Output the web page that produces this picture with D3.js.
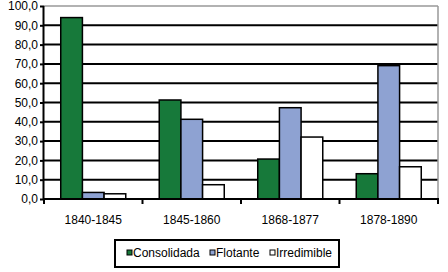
<!DOCTYPE html>
<html>
<head>
<meta charset="utf-8">
<script src="https://cdn.jsdelivr.net/npm/d3@7"></script>
<style>
  body { margin: 0; background: #fff; }
  svg text { font-family: "Liberation Sans", Arial, sans-serif; fill: #000; }
</style>
</head>
<body>
<svg id="chart" width="448" height="272"></svg>
<script>
// data
let periods = ["1840-1845", "1845-1860", "1868-1877", "1878-1890"];
let series = ["Consolidada", "Flotante", "Irredimible"];
let consolidada = [94.0, 51.3, 20.7, 13.1];
let flotante = [3.4, 41.3, 47.3, 69.1];
let irredimible = [2.7, 7.4, 32.1, 16.7];
let yTicks = [0, 10, 20, 30, 40, 50, 60, 70, 80, 90, 100];
let colors = ["#17793a", "#8ea2d2", "#ffffff"];

let svg = d3.select("#chart");
let margin = {top: 6, right: 10, bottom: 73, left: 44},
    width = 448 - margin.left - margin.right,
    height = 272 - margin.top - margin.bottom;

let x0 = d3.scaleBand().domain(periods).range([0, width]).paddingInner(0.34).paddingOuter(0.17);
let x1 = d3.scaleBand().domain(series).range([0, x0.bandwidth()]);
let y = d3.scaleLinear().domain([0, 100]).range([height, 0]);

let g = svg.append("g").attr("transform", `translate(${margin.left},${margin.top})`);

// gridlines
g.selectAll("line.grid")
    .data(yTicks.filter(d => d > 0 && d < 100)).enter()
    .append("line")
    .attr("x1", 0).attr("x2", width)
    .attr("y1", d => y(d)).attr("y2", d => y(d))
    .attr("stroke", "#000").attr("stroke-width", 2);

// plot border (top/right gray)
g.append("line").attr("x1", 0).attr("x2", width).attr("y1", 0).attr("y2", 0)
    .attr("stroke", "#999").attr("stroke-width", 1.5);
g.append("line").attr("x1", width).attr("x2", width).attr("y1", 0).attr("y2", height)
    .attr("stroke", "#999").attr("stroke-width", 1.5);

// bars
let values = [consolidada, flotante, irredimible];
series.forEach((s, si) => {
    g.selectAll("rect.s" + si)
        .data(periods).enter()
        .append("rect")
        .attr("x", d => x0(d) + x1(s))
        .attr("y", (d, i) => y(values[si][i]))
        .attr("width", x1.bandwidth())
        .attr("height", (d, i) => height - y(values[si][i]))
        .attr("fill", colors[si])
        .attr("stroke", "#000")
        .attr("stroke-width", 1.5);
});

// y axis
let yAxis = g.append("g")
    .call(d3.axisLeft(y).tickValues(yTicks).tickSize(4).tickFormat(d => d3.format(".1f")(d).replace(".", ",")));
yAxis.select(".domain").attr("stroke-width", 2).attr("d", `M-0.5,0V${height}`);
yAxis.selectAll(".tick line").attr("stroke-width", 2);
yAxis.selectAll("text").attr("font-size", 12).attr("x", -6);

// x axis
let xAxis = g.append("g").attr("transform", `translate(0,${height})`);
xAxis.append("line").attr("x1", -1).attr("x2", width + 1).attr("stroke", "#000").attr("stroke-width", 2);
xAxis.selectAll("line.tick")
    .data(d3.range(periods.length + 1)).enter()
    .append("line")
    .attr("x1", d => d * width / periods.length).attr("x2", d => d * width / periods.length)
    .attr("y1", 0).attr("y2", 5)
    .attr("stroke", "#000").attr("stroke-width", 2);
xAxis.selectAll("text")
    .data(periods).enter()
    .append("text")
    .attr("x", d => x0(d) + x0.bandwidth() / 2)
    .attr("y", 25)
    .attr("text-anchor", "middle")
    .attr("font-size", 12)
    .text(d => d);

// legend
let legend = svg.append("g").attr("transform", "translate(115,240)");
legend.append("rect").attr("width", 224).attr("height", 27)
    .attr("fill", "#fff").attr("stroke", "#000").attr("stroke-width", 2);
let legendX = [12, 95, 155];
series.forEach((s, i) => {
    legend.append("rect")
        .attr("x", legendX[i]).attr("y", 10)
        .attr("width", 5).attr("height", 5)
        .attr("fill", colors[i]).attr("stroke", "#000").attr("stroke-width", 1);
    legend.append("text")
        .attr("x", legendX[i] + 6).attr("y", 17)
        .attr("font-size", 12)
        .text(s);
});
</script>
</body>
</html>
